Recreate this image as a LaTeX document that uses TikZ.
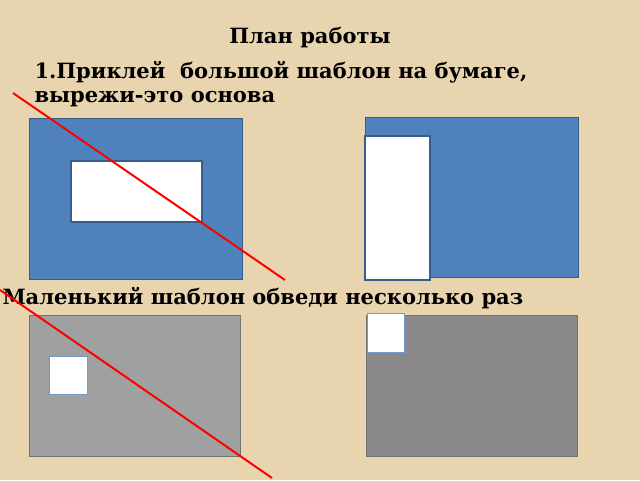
\documentclass[tikz,border=0pt]{standalone}
\usepackage{fontspec}
\setmainfont{DejaVu Serif}
\usepackage{tikz}

\definecolor{paper}{RGB}{232,213,176}
\definecolor{tplblue}{RGB}{79,129,189}
\definecolor{tplborder}{RGB}{56,93,138}
\definecolor{lightgray}{RGB}{160,160,160}
\definecolor{darkgray}{RGB}{137,137,137}

\begin{document}
\begin{tikzpicture}[x=1pt, y=-1pt, line width=1pt,
	sheet/.style={draw, inner sep=0pt, outer sep=0pt, anchor=north west},
	blue sheet/.style={sheet, fill=tplblue, draw=tplborder},
	gray sheet/.style={sheet, draw=gray!90!black},
	hole/.style={sheet, fill=white, draw=tplborder, line width=1.5pt},
	cut/.style={draw=red, line width=2pt},
	label text/.style={font=\bfseries\fontsize{21}{25}\selectfont, inner sep=0pt, anchor=base west}]

	\useasboundingbox (0,0) rectangle (640,480);
	\fill[paper] (0,0) rectangle (640,480);

	\node[label text, anchor=base] (title) at (310,43) {План работы};
	\node[label text] (step1) at (34,78) {1.Приклей\ \ большой шаблон на бумаге,};
	\node[label text] (step1b) at (34,102) {вырежи-это основа};
	\node[label text] (step2) at (2,304) {Маленький шаблон обведи несколько раз};

	% big template on paper
	\node[blue sheet, minimum width=213pt, minimum height=161pt] (base1) at (29,118) {};
	\node[hole, minimum width=131pt, minimum height=61pt] (hole1) at (71,161) {};
	\node[blue sheet, minimum width=213pt, minimum height=160pt] (base2) at (365,117) {};
	\node[hole, minimum width=65pt, minimum height=144pt] (hole2) at (365,136) {};

	% small template
	\node[gray sheet, fill=lightgray, minimum width=211pt, minimum height=141pt] (base3) at (29,315) {};
	\node[hole, draw=tplblue!80, line width=1pt, minimum width=38pt, minimum height=38pt] (hole3) at (49,356) {};
	\node[gray sheet, fill=darkgray, minimum width=211pt, minimum height=141pt] (base4) at (366,315) {};
	\node[hole, draw=tplblue!80, line width=1pt, minimum width=37pt, minimum height=39pt] (hole4) at (367,313) {};

	\coordinate (a1) at (13,93);
	\coordinate (b1) at (285,280);
	\coordinate (a2) at (0,290);
	\coordinate (b2) at (272,478);
	\path[cut] (a1) -- (b1) (a2) -- (b2);
\end{tikzpicture}
\end{document}
